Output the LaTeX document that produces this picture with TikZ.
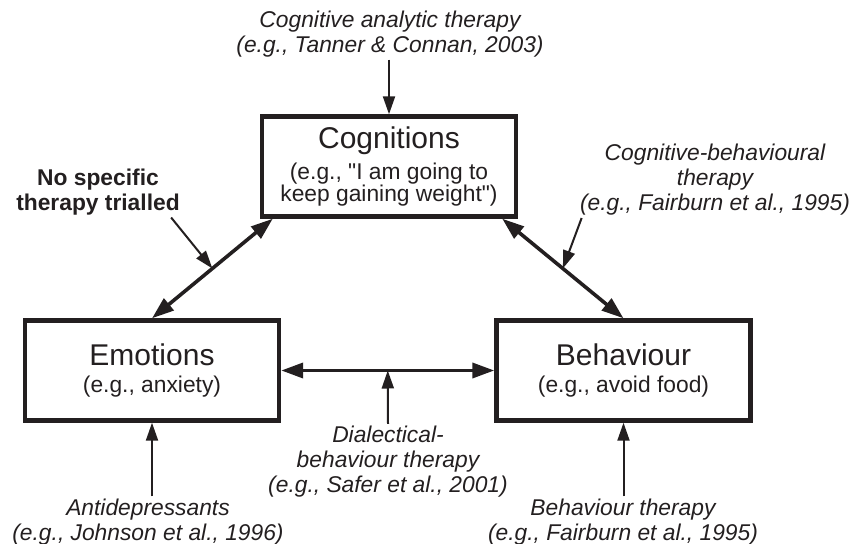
\documentclass[tikz,border=0pt]{standalone}
\usepackage{fontspec}
\setmainfont{Liberation Sans}[Ligatures=TeXOff]
\usetikzlibrary{arrows.meta}
\definecolor{ink}{HTML}{231F20}

\begin{document}
\begin{tikzpicture}[x=0.5pt,y=-0.5pt]
		\tikzstyle{box}=[draw=ink,line width=2.2pt,minimum width=127pt,minimum height=50pt,align=center,inner sep=0pt,text=ink,font=\fontsize{11.4}{12.5}\selectfont]
		\tikzstyle{label}=[align=center,inner sep=1pt,text=ink,font=\fontsize{11.4}{12.5}\selectfont\itshape]
		\tikzstyle{pointer}=[draw=ink,line width=1pt,-{Triangle[length=9pt,width=6pt]}]
		\tikzstyle{link}=[draw=ink,line width=1.8pt,{Triangle[length=11pt,width=7.5pt]}-{Triangle[length=11pt,width=7.5pt]}]
		\useasboundingbox (0,0) rectangle (851,544);

		\begin{scope}
			\node[box] (cog) at (389,166.5) {\fontsize{15}{18}\selectfont Cognitions\\[3pt]
				(e.g., "I am going to\\[-1.5pt]keep gaining weight")};
			\node[box] (emo) at (152,370.5) {\fontsize{15}{18}\selectfont Emotions\\[1pt]
				(e.g., anxiety)};
			\node[box] (beh) at (623.5,370.5) {\fontsize{15}{18}\selectfont Behaviour\\[1pt]
				(e.g., avoid food)};
		\end{scope}

		\node[label] (cat) at (390,34) {Cognitive analytic therapy\\(e.g., Tanner \& Connan, 2003)};
		\node[label,font=\fontsize{11.4}{12.5}\selectfont\bfseries] (nst) at (98,192) {No specific\\therapy trialled};
		\node[label] (cbt) at (715,180) {Cognitive-behavioural\\therapy\\(e.g., Fairburn et al., 1995)};
		\node[label] (dbt) at (388,462) {Dialectical-\\behaviour therapy\\(e.g., Safer et al., 2001)};
		\node[label] (adp) at (148,522) {Antidepressants\\(e.g., Johnson et al., 1996)};
		\node[label] (bt) at (623,522) {Behaviour therapy\\(e.g., Fairburn et al., 1995)};

		% two-way links between the boxes
		\draw[link] (emo.north) -- coordinate[pos=0.5] (lmid) ([xshift=6.5pt]cog.south west);
		\draw[link] ([xshift=-8pt]cog.south east) -- coordinate[pos=0.5] (rmid) (beh.north);
		\draw[link] (emo.east) -- coordinate[pos=0.5] (hmid) (beh.west);

		\draw[pointer] (cat.south -| cog.north) -- (cog.north);
		\draw[pointer] ([xshift=-5.5pt]nst.south east) -- (lmid);
		\draw[pointer] ([xshift=2pt]cbt.south west) -- (rmid);
		\draw[pointer] (dbt.north) -- (hmid);
		\draw[pointer] (adp.north -| emo.south) -- (emo.south);
		\draw[pointer] (bt.north -| beh.south) -- (beh.south);
	\end{tikzpicture}
\end{document}
